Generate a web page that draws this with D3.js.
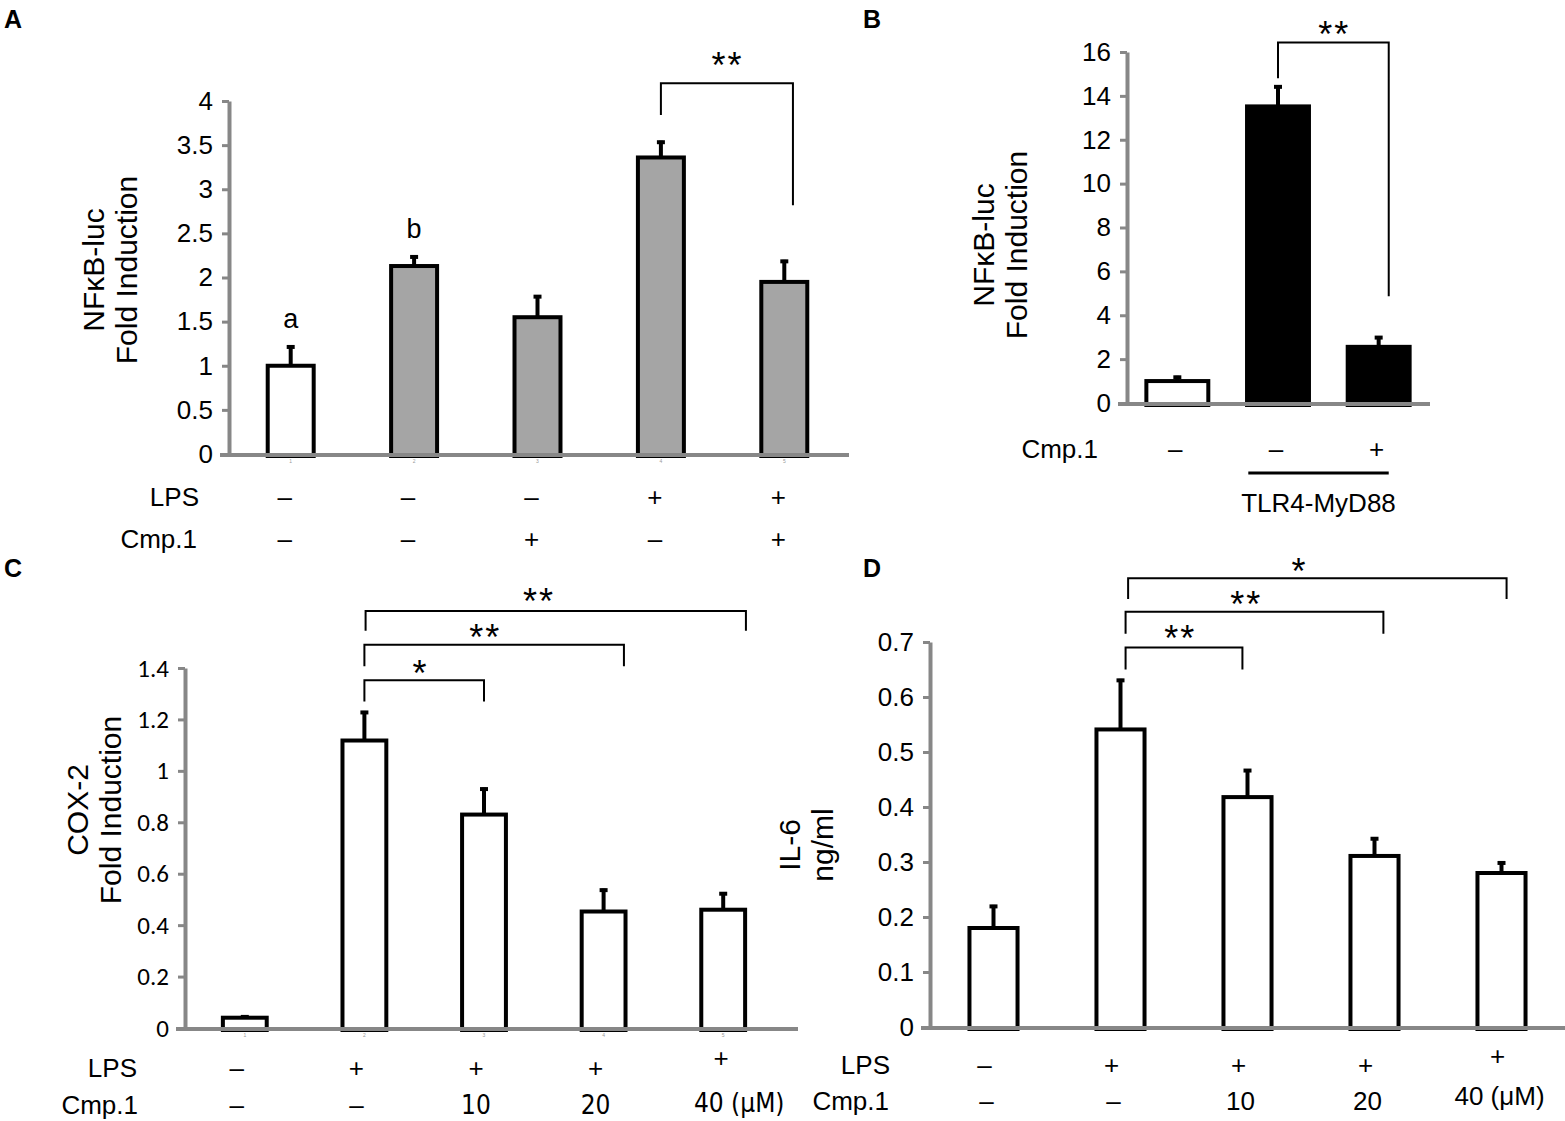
<!DOCTYPE html>
<html>
<head>
<meta charset="utf-8">
<script src="https://cdn.jsdelivr.net/npm/d3@7/dist/d3.min.js"></script>
<style>
  html, body { margin: 0; padding: 0; background: #fff; }
  svg { display: block; }
</style>
</head>
<body>
<svg id="chart" width="1565" height="1121"></svg>
<script>
// ---------------- DATA ----------------
// Panel A
const catsA = ["1", "2", "3", "4", "5"];
const valuesA = [1.0, 2.13, 1.55, 3.36, 1.95];
const errorsA = [0.23, 0.12, 0.25, 0.19, 0.25];
const ticksA = [0, 0.5, 1, 1.5, 2, 2.5, 3, 3.5, 4];
const lpsA = ["–", "–", "–", "+", "+"];
const cmpA = ["–", "–", "+", "–", "+"];
const lettersA = [{ i: 0, text: "a", v: 1.53 }, { i: 1, text: "b", v: 2.54 }];
const bracketsA = [{ from: 3, to: 4.07, top: 4.2, endL: 3.84, endR: 2.82, label: "**", lx: 3.54, ly: 4.44 }];

// Panel B
const catsB = ["Control", "TLR4-MyD88", "TLR4-MyD88 + Cmp.1"];
const valuesB = [1.0, 13.52, 2.56];
const errorsB = [0.24, 0.96, 0.49];
const ticksB = [0, 2, 4, 6, 8, 10, 12, 14, 16];
const cmpB = ["–", "–", "+"];
const bracketsB = [{ from: 1, to: 2.1, top: 16.43, endL: 14.8, endR: 4.87, label: "**", lx: 1.56, ly: 16.95 }];

// Panel C
const catsC = ["1", "2", "3", "4", "5"];
const valuesC = [0.04, 1.118, 0.83, 0.453, 0.46];
const errorsC = [0.009, 0.115, 0.105, 0.089, 0.068];
const ticksC = [0, 0.2, 0.4, 0.6, 0.8, 1, 1.2, 1.4];
const lpsC = ["–", "+", "+", "+", "+"];
const cmpC = ["–", "–", "10", "20", "40 (μM)"];
const bracketsC = [
  { from: 1, to: 2, top: 1.352, endL: 1.27, endR: 1.27, label: "*", lx: 1.47, ly: 1.39 },
  { from: 1, to: 3.17, top: 1.49, endL: 1.407, endR: 1.407, label: "**", lx: 2.01, ly: 1.53 },
  { from: 1.01, to: 4.19, top: 1.622, endL: 1.545, endR: 1.545, label: "**", lx: 2.46, ly: 1.67 }
];

// Panel D
const catsD = ["1", "2", "3", "4", "5"];
const valuesD = [0.18, 0.541, 0.418, 0.311, 0.28];
const errorsD = [0.042, 0.092, 0.051, 0.034, 0.021];
const ticksD = [0, 0.1, 0.2, 0.3, 0.4, 0.5, 0.6, 0.7];
const lpsD = ["–", "+", "+", "+", "+"];
const cmpD = ["–", "–", "10", "20", "40 (μM)"];
const bracketsD = [
  { from: 1.04, to: 1.96, top: 0.69, endL: 0.65, endR: 0.65, label: "**", lx: 1.47, ly: 0.712 },
  { from: 1.04, to: 3.07, top: 0.755, endL: 0.715, endR: 0.715, label: "**", lx: 1.99, ly: 0.775 },
  { from: 1.06, to: 4.04, top: 0.816, endL: 0.778, endR: 0.778, label: "*", lx: 2.41, ly: 0.834 }
];

// ---------------- STYLE ----------------
const ARIAL = "'Liberation Sans', Arial, Helvetica, sans-serif";
const NARROW = "'Liberation Sans Narrow', 'Arial Narrow', 'DejaVu Sans Condensed', sans-serif";
const CALIBRI = "Carlito, Calibri, Lato, sans-serif";
const AXIS_GRAY = "#878787";
const BAR_GRAY = "#a5a5a5";

const svg = d3.select("#chart");
svg.append("rect").attr("width", 1565).attr("height", 1121).attr("fill", "#fff");

function panel(o) {
  const g = svg.append("g");
  const n = o.cats.length;
  const x = d3.scaleBand().domain(o.cats).range(o.xRange)
    .paddingInner(o.pad).paddingOuter(o.pad / 2);
  const y = d3.scaleLinear().domain([0, o.yMax]).range(o.yRange);
  const bw = x.bandwidth();
  const cx = d3.scaleLinear().domain([0, n - 1])
    .range([x(o.cats[0]) + bw / 2, x(o.cats[n - 1]) + bw / 2]);

  // bars
  const sw = 4;
  g.selectAll("rect.bar").data(o.values).enter().append("rect")
    .attr("x", (d, i) => x(o.cats[i]) + sw / 2)
    .attr("width", bw - sw)
    .attr("y", d => y(d))
    .attr("height", d => y(0) - y(d) + 2)
    .attr("fill", (d, i) => o.fill(i))
    .attr("stroke", "#000").attr("stroke-width", sw);

  // error bars (upper only)
  o.values.forEach((v, i) => {
    const c = cx(i);
    g.append("line").attr("x1", c).attr("x2", c)
      .attr("y1", y(v)).attr("y2", y(v + o.errors[i]))
      .attr("stroke", "#000").attr("stroke-width", 4);
    g.append("line").attr("x1", c - 4).attr("x2", c + 4)
      .attr("y1", y(v + o.errors[i]) + 1.5).attr("y2", y(v + o.errors[i]) + 1.5)
      .attr("stroke", "#000").attr("stroke-width", 4);
  });

  // y axis
  const ya = g.append("g").attr("transform", `translate(${o.xRange[0]},0)`)
    .call(d3.axisLeft(y).tickValues(o.ticks).tickFormat(o.fmt || (d => d))
      .tickSize(7).tickSizeOuter(0).tickPadding(o.tickPad || 9));
  ya.select(".domain").attr("stroke", AXIS_GRAY).attr("stroke-width", 4);
  ya.selectAll(".tick line").attr("stroke", AXIS_GRAY).attr("stroke-width", 3);
  ya.selectAll(".tick text").attr("font-family", o.tickFont || ARIAL)
    .attr("font-size", o.tickSize || 26).attr("fill", "#000");

  // x axis
  const xa = g.append("g").attr("transform", `translate(0,${y(0)})`)
    .call(d3.axisBottom(x).tickSize(0).tickPadding(5)
      .tickFormat((d, i) => o.tinyTicks ? String(i + 1) : ""));
  xa.select(".domain").remove();
  xa.selectAll(".tick text").attr("font-size", 5).attr("fill", "#999").attr("font-family", ARIAL);
  g.append("line").attr("x1", o.xRange[0] - 9).attr("x2", o.xLineEnd)
    .attr("y1", y(0) + 1).attr("y2", y(0) + 1)
    .attr("stroke", AXIS_GRAY).attr("stroke-width", 4);

  // y title
  const yt = g.append("text")
    .attr("transform", `translate(${o.titleX},${o.titleY}) rotate(-90)`)
    .attr("text-anchor", "middle").attr("font-family", ARIAL).attr("font-size", 30);
  o.title.forEach((t, k) => {
    yt.append("tspan").attr("x", 0).attr("dy", k === 0 ? 0 : o.titleGap).text(t);
  });

  // brackets
  (o.brackets || []).forEach(b => {
    const x1 = cx(b.from), x2 = cx(b.to);
    g.append("path")
      .attr("d", `M${x1},${y(b.endL)}V${y(b.top)}H${x2}V${y(b.endR)}`)
      .attr("fill", "none").attr("stroke", "#000").attr("stroke-width", 2);
    g.append("text").attr("x", cx(b.lx)).attr("y", y(b.ly)).attr("dy", "0.44em")
      .attr("text-anchor", "middle").attr("font-family", ARIAL).attr("font-size", 36)
      .attr("letter-spacing", 2).text(b.label);
  });

  // letters
  (o.letters || []).forEach(l => {
    g.append("text").attr("x", cx(l.i)).attr("y", y(l.v)).attr("dy", "0.32em")
      .attr("text-anchor", "middle").attr("font-family", ARIAL).attr("font-size", 27)
      .text(l.text);
  });

  // rows of treatment labels
  (o.rows || []).forEach(r => {
    g.append("text").attr("x", r.labelX).attr("y", r.y).attr("dy", "0.35em")
      .attr("text-anchor", "end").attr("font-family", ARIAL).attr("font-size", 26)
      .text(r.name);
    r.values.forEach((t, i) => {
      const ov = (r.override && r.override[i]) || {};
      const isSign = (t === "–" || t === "+");
      g.append("text")
        .attr("x", cx(i) + (ov.dx !== undefined ? ov.dx : r.dx))
        .attr("y", r.y + (ov.dy || 0)).attr("dy", "0.35em")
        .attr("text-anchor", "middle")
        .attr("font-family", isSign ? ARIAL : (r.numFont || ARIAL))
        .attr("font-size", 26).text(t);
    });
  });

  return { x, y, cx, g };
}

// Panel A
panel({
  cats: catsA, values: valuesA, errors: errorsA, ticks: ticksA, yMax: 4,
  xRange: [229, 846], yRange: [454, 101], pad: 0.595, xLineEnd: 849,
  fill: i => i === 0 ? "#fff" : BAR_GRAY, tinyTicks: true,
  title: ["NFκB-luc", "Fold Induction"], titleX: 104, titleY: 270, titleGap: 33,
  brackets: bracketsA, letters: lettersA,
  rows: [
    { name: "LPS", values: lpsA, y: 497, labelX: 199, dx: -6 },
    { name: "Cmp.1", values: cmpA, y: 539, labelX: 197, dx: -6 }
  ]
});

// Panel B
const pB = panel({
  cats: catsB, values: valuesB, errors: errorsB, ticks: ticksB, yMax: 16,
  xRange: [1127, 1429], yRange: [403, 52], pad: 0.345, xLineEnd: 1430,
  fill: i => i === 0 ? "#fff" : "#000",
  title: ["NFκB-luc", "Fold Induction"], titleX: 994, titleY: 245, titleGap: 33,
  brackets: bracketsB,
  rows: [
    { name: "Cmp.1", values: cmpB, y: 449, labelX: 1098, dx: -2 }
  ]
});
pB.g.append("line").attr("x1", pB.cx(0.705)).attr("x2", pB.cx(2.1))
  .attr("y1", 473).attr("y2", 473).attr("stroke", "#000").attr("stroke-width", 3);
pB.g.append("text").attr("x", (pB.cx(0.705) + pB.cx(2.1)) / 2).attr("y", 503).attr("dy", "0.35em")
  .attr("text-anchor", "middle").attr("font-family", ARIAL).attr("font-size", 26)
  .text("TLR4-MyD88");

// Panel C
panel({
  cats: catsC, values: valuesC, errors: errorsC, ticks: ticksC, yMax: 1.4,
  xRange: [185, 783], yRange: [1028, 668], pad: 0.6, xLineEnd: 798,
  fill: () => "#fff", tinyTicks: true, tickFont: CALIBRI, tickSize: 25,
  title: ["COX-2", "Fold Induction"], titleX: 88, titleY: 810, titleGap: 33,
  brackets: bracketsC,
  rows: [
    { name: "LPS", values: lpsC, y: 1068, labelX: 137, dx: -8, override: { 4: { dx: -2, dy: -10 } } },
    { name: "Cmp.1", values: cmpC, y: 1105, labelX: 138, dx: -8, numFont: NARROW, override: { 4: { dx: 16, dy: -2 } } }
  ]
});

// Panel D
panel({
  cats: catsD, values: valuesD, errors: errorsD, ticks: ticksD, yMax: 0.7,
  xRange: [930, 1565], yRange: [1027, 642], pad: 0.59, xLineEnd: 1565,
  fill: () => "#fff",
  title: ["IL-6", "ng/ml"], titleX: 800, titleY: 845, titleGap: 33,
  brackets: bracketsD,
  rows: [
    { name: "LPS", values: lpsD, y: 1065, labelX: 890, dx: -9, override: { 4: { dx: -4, dy: -9 } } },
    { name: "Cmp.1", values: cmpD, y: 1101, labelX: 889, dx: -7, override: { 4: { dx: -2, dy: -5 } } }
  ]
});

// Panel letters
[["A", 4, 28], ["B", 863, 28], ["C", 4, 577], ["D", 863, 577]].forEach(p => {
  svg.append("text").attr("x", p[1]).attr("y", p[2])
    .attr("font-family", ARIAL).attr("font-weight", "bold").attr("font-size", 25)
    .text(p[0]);
});
</script>
</body>
</html>
